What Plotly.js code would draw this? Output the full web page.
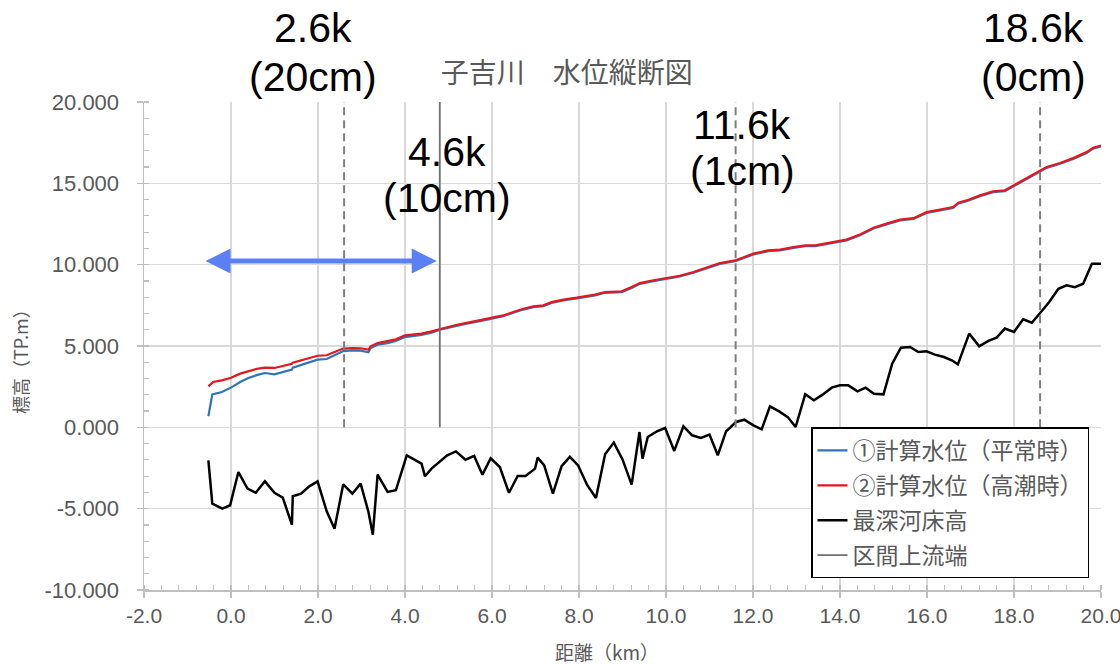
<!DOCTYPE html>
<html><head><meta charset="utf-8">
<script src="https://cdn.plot.ly/plotly-3.0.1.min.js"></script>
<style>html,body{margin:0;padding:0;background:#fff;}#chart{width:1120px;height:664px;}</style>
</head><body><div id="chart"></div>
<script>
// ---- data ----
const bedX = [-0.52,-0.43,-0.2,-0.02,0.17,0.38,0.57,0.78,1.0,1.19,1.40,1.42,1.61,1.80,1.99,2.20,2.38,2.58,2.79,2.98,3.16,3.26,3.37,3.60,3.79,4.04,4.38,4.46,4.61,4.97,5.17,5.39,5.59,5.78,5.97,6.18,6.39,6.59,6.77,6.99,7.05,7.2,7.40,7.60,7.79,7.98,8.19,8.39,8.60,8.80,9.00,9.21,9.39,9.46,9.58,9.79,9.98,10.19,10.40,10.60,10.80,11.0,11.19,11.38,11.49,11.61,11.80,12.01,12.2,12.39,12.6,12.80,12.98,13.2,13.40,13.60,13.81,14.0,14.19,14.40,14.59,14.78,15.0,15.20,15.40,15.61,15.80,15.99,16.18,16.39,16.57,16.71,16.97,17.20,17.41,17.60,17.79,18.0,18.21,18.41,18.62,18.81,19.02,19.21,19.40,19.59,19.79,20.0];
const bedY = [-2.03,-4.69,-5.0,-4.79,-2.75,-3.77,-4.02,-3.32,-4.02,-4.32,-5.98,-4.24,-4.08,-3.63,-3.32,-5.16,-6.23,-3.50,-4.08,-3.46,-5.2,-6.6,-2.91,-3.97,-3.87,-1.72,-2.23,-3.01,-2.54,-1.72,-1.48,-1.99,-1.76,-2.91,-1.9,-2.44,-4.02,-2.99,-2.99,-2.54,-1.86,-2.34,-4.08,-2.38,-1.82,-2.34,-3.56,-4.34,-1.66,-0.94,-1.97,-3.52,-0.29,-1.93,-0.59,-0.25,-0.04,-1.45,0.06,-0.49,-0.65,-0.45,-1.72,-0.25,0.02,0.33,0.47,0.12,-0.12,1.29,0.98,0.63,0.02,2.03,1.66,2.01,2.44,2.58,2.58,2.21,2.44,2.07,2.03,3.91,4.9,4.94,4.63,4.67,4.47,4.32,4.12,3.87,5.76,4.98,5.31,5.51,6.07,5.86,6.64,6.43,7.09,7.70,8.52,8.73,8.62,8.83,10.06,10.06];

const highX = [-0.52,-0.41,-0.21,0,0.21,0.40,0.59,0.78,1.0,1.19,1.40,1.42,1.61,1.80,1.99,2.20,2.39,2.58,2.79,2.98,3.16,3.21,3.37,3.60,3.79,4.0,4.38,4.61,4.80,4.97,5.17,5.39,5.78,5.99,6.26,6.49,6.72,6.95,7.18,7.37,7.64,7.95,8.37,8.6,8.98,9.21,9.4,9.71,10.02,10.32,10.63,10.94,11.24,11.59,12.01,12.35,12.62,12.93,13.2,13.43,13.77,14.15,14.46,14.77,15.07,15.38,15.69,15.99,16.30,16.60,16.72,16.91,17.22,17.52,17.79,18.06,18.37,18.6,18.75,19.06,19.36,19.67,19.82,20.0];
const highY = [2.52,2.79,2.89,3.05,3.3,3.46,3.59,3.67,3.65,3.77,3.91,3.98,4.12,4.26,4.40,4.43,4.63,4.84,4.87,4.86,4.78,4.98,5.18,5.29,5.41,5.65,5.76,5.9,6.04,6.16,6.29,6.41,6.6,6.72,6.88,7.09,7.29,7.44,7.5,7.70,7.85,7.97,8.16,8.32,8.36,8.62,8.87,9.04,9.2,9.32,9.55,9.82,10.1,10.26,10.68,10.88,10.92,11.08,11.19,11.19,11.35,11.54,11.86,12.27,12.52,12.77,12.86,13.23,13.38,13.54,13.81,13.95,14.26,14.51,14.57,14.98,15.43,15.8,16.0,16.25,16.55,16.92,17.18,17.33];

const normalX = [-0.52,-0.43,-0.21,0,0.21,0.40,0.59,0.78,1.0,1.19,1.40,1.42,1.61,1.80,1.99,2.20,2.39,2.58,2.79,2.98,3.16,3.21,3.37,3.60,3.79,4.0,4.38,4.61,4.80,4.97,5.17,5.39,5.78,5.99,6.26,6.49,6.72,6.95,7.18,7.37,7.64,7.95,8.37,8.6,8.98,9.21,9.4,9.71,10.02,10.32,10.63,10.94,11.24,11.59,12.01,12.35,12.62,12.93,13.2,13.43,13.77,14.15,14.46,14.77,15.07,15.38,15.69,15.99,16.30,16.60,16.72,16.91,17.22,17.52,17.79,18.06,18.37,18.6,18.75,19.06,19.36,19.67,19.82,20.0];
const normalY = [0.68,2.03,2.17,2.44,2.79,3.03,3.21,3.34,3.26,3.4,3.55,3.67,3.85,4.01,4.16,4.2,4.47,4.69,4.73,4.71,4.61,4.87,5.08,5.18,5.31,5.55,5.68,5.82,6.0,6.1,6.24,6.36,6.55,6.67,6.83,7.04,7.24,7.39,7.45,7.65,7.80,7.92,8.11,8.27,8.31,8.57,8.82,8.99,9.15,9.27,9.50,9.77,10.05,10.21,10.63,10.83,10.87,11.03,11.14,11.14,11.30,11.49,11.81,12.22,12.47,12.72,12.81,13.18,13.33,13.49,13.76,13.90,14.21,14.46,14.52,14.93,15.38,15.75,15.95,16.20,16.50,16.87,17.13,17.28];

const upstreamX = [4.8, 4.8];
const upstreamY = [0, 20];

const markerKm = [2.6, 11.6, 18.6];
const labelKm = [1.89, 4.97, 11.75, 18.44];
const labelLine1 = ['2.6k', '4.6k', '11.6k', '18.6k'];
const labelLine2 = ['(20cm)', '(10cm)', '(1cm)', '(0cm)'];

const arrowFrom = -0.62, arrowTo = 4.73, arrowLevel = 10.22;

const xTickVals = [-2, 0, 2, 4, 6, 8, 10, 12, 14, 16, 18, 20];
const xTickText = ['-2.0','0.0','2.0','4.0','6.0','8.0','10.0','12.0','14.0','16.0','18.0','20.0'];
const yTickVals = [-10, -5, 0, 5, 10, 15, 20];
const yTickText = ['-10.000','-5.000','0.000','5.000','10.000','15.000','20.000'];

const seriesNames = ['①計算水位（平常時）', '②計算水位（高潮時）', '最深河床高', '区間上流端'];
const titleText = '子吉川　水位縦断図';
const xTitle = '距離（km）';
const yTitle = '標高（TP.m）';

// ---- chart ----
const cjk = '"Noto Sans CJK JP", "Noto Sans", sans-serif';
const latin = '"Liberation Sans", Arial, sans-serif';
const grey = '#595959';

// label layout (paper coordinates)
const labelPaperY1 = [1.1516, 0.8975, 0.9529, 1.1516];
const labelPaperY2 = [1.0512, 0.8033, 0.8586, 1.0512];

const traces = [
  {x: normalX, y: normalY, name: seriesNames[0], mode: 'lines', legendgroup: 'a',
   line: {color: '#2e75b6', width: 2.2}},
  {x: highX, y: highY, name: seriesNames[1], mode: 'lines', legendgroup: 'b',
   line: {color: '#e5161d', width: 2.2}},
  {x: bedX, y: bedY, name: seriesNames[2], mode: 'lines', legendgroup: 'c',
   line: {color: '#000000', width: 2.5}},
  {x: upstreamX, y: upstreamY, name: seriesNames[3], mode: 'lines', legendgroup: 'd',
   line: {color: '#6f6f6f', width: 1.8}}
];

const shapes = markerKm.map(k => ({
  type: 'line', xref: 'x', yref: 'y', x0: k, x1: k, y0: 0, y1: 20,
  line: {color: '#7f7f7f', width: 2, dash: '8px,5px'}
}));

const annotations = [];
labelKm.forEach((k, i) => {
  annotations.push({x: k, y: labelPaperY1[i], xref: 'x', yref: 'paper', text: labelLine1[i], showarrow: false,
    font: {family: latin, size: 41, color: '#000'}, xanchor: 'center', yanchor: 'middle'});
  annotations.push({x: k, y: labelPaperY2[i], xref: 'x', yref: 'paper', text: labelLine2[i], showarrow: false,
    font: {family: latin, size: 41, color: '#000'}, xanchor: 'center', yanchor: 'middle'});
});
annotations.push({
  x: arrowTo, y: arrowLevel, ax: arrowFrom, ay: arrowLevel, xref: 'x', yref: 'y', axref: 'x', ayref: 'y',
  text: '', showarrow: true, arrowhead: 2, startarrowhead: 2, arrowside: 'end+start',
  arrowsize: 1, startarrowsize: 1, arrowwidth: 5, arrowcolor: '#5b80f5'
});
// axis titles placed as annotations
annotations.push({x: 0.4838, y: -0.127, xref: 'paper', yref: 'paper', text: xTitle, showarrow: false,
  font: {family: cjk, size: 19, color: grey}, xanchor: 'center', yanchor: 'middle'});
annotations.push({x: -0.1296, y: 0.4775, xref: 'paper', yref: 'paper', text: yTitle, showarrow: false,
  textangle: -90, font: {family: cjk, size: 18, color: grey}, xanchor: 'center', yanchor: 'middle'});

const layout = {
  width: 1120, height: 664,
  margin: {l: 144, r: 19, t: 102, b: 74},
  paper_bgcolor: '#ffffff', plot_bgcolor: '#ffffff',
  title: {text: titleText, font: {family: cjk, size: 28, color: grey},
          x: 0.506, xanchor: 'center', y: 0.89, yanchor: 'middle', yref: 'container'},
  xaxis: {
    range: [-2, 20], tickmode: 'array', tickvals: xTickVals, ticktext: xTickText,
    showgrid: true, gridcolor: '#d9d9d9', gridwidth: 1.5,
    showline: true, linecolor: '#bfbfbf', linewidth: 1.5,
    ticks: 'outside', ticklen: 6, tickcolor: '#bfbfbf', tickwidth: 1.5, ticklabeloverflow: 'allow',
    minor: {dtick: 0.4, tick0: 0, ticks: 'inside', ticklen: 5, tickcolor: '#bfbfbf', tickwidth: 1.2, showgrid: false},
    tickfont: {family: latin, size: 21, color: grey},
    zeroline: false, automargin: false
  },
  yaxis: {
    range: [-10, 20], tickmode: 'array', tickvals: yTickVals, ticktext: yTickText,
    showgrid: true, gridcolor: '#d9d9d9', gridwidth: 1.5,
    showline: true, linecolor: '#bfbfbf', linewidth: 1.5,
    ticks: 'outside', ticklen: 6, tickcolor: '#bfbfbf', tickwidth: 1.5, ticklabelstandoff: 13,
    minor: {dtick: 1, tick0: 0, ticks: 'inside', ticklen: 5, tickcolor: '#bfbfbf', tickwidth: 1.2, showgrid: false},
    tickfont: {family: latin, size: 22, color: grey},
    zeroline: false, automargin: false
  },
  showlegend: true,
  legend: {
    x: 0.697, y: 0.333, xanchor: 'left', yanchor: 'top',
    bgcolor: '#ffffff', bordercolor: '#000000', borderwidth: 1.5,
    font: {family: cjk, size: 23, color: grey},
    tracegroupgap: 2, traceorder: 'grouped', itemwidth: 30
  },
  shapes: shapes,
  annotations: annotations
};

Plotly.newPlot('chart', traces, layout, {displayModeBar: false, staticPlot: true});
</script>
</body></html>
